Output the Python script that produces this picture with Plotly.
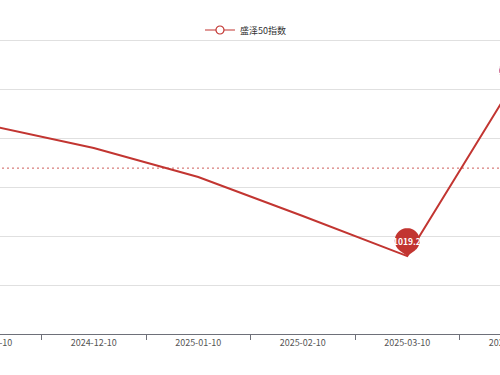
import numpy as np
import plotly.graph_objects as go

# ---- data ----
dates = ["2024-11-10", "2024-12-10", "2025-01-10", "2025-02-10", "2025-03-10", "2025-04-10"]
values = [1219.1, 1184.7, 1140.3, 1080.6, 1019.2, 1279.6]
series_name = "盛泽50指数"
y_ticks = [900, 975, 1050, 1125, 1200, 1275, 1350]

RED = "#c23531"
GRID = "#e0e0e0"
AXIS = "#6E7079"
FONT = "Noto Sans CJK SC, Noto Sans, sans-serif"

mean_v = float(np.mean(values))
i_min = int(np.argmin(values))
i_max = int(np.argmax(values))


def pin_path(h=28.0, r=12.5, n=48):
    d = h - r
    beta = np.arccos(r / d)
    a = np.linspace(beta, 2 * np.pi - beta, n)
    xs = r * np.sin(a)
    ys = d - r * np.cos(a)
    pts = ["M 0 0"] + [f"L {x:.2f} {y:.2f}" for x, y in zip(xs, ys)] + ["Z"]
    return " ".join(pts), d


fig = go.Figure()
fig.add_trace(go.Scatter(
    x=dates, y=values, mode="lines", name=series_name,
    line=dict(color=RED, width=2), showlegend=False,
))
# legend entry (ECharts style emptyCircle icon)
fig.add_trace(go.Scatter(
    x=[None], y=[None], mode="lines+markers", name=series_name,
    line=dict(color=RED, width=1.2),
    marker=dict(symbol="circle", size=8, color="white", line=dict(color=RED, width=1.2)),
))

path, d_off = pin_path()
shapes = [
    dict(type="line", xref="paper", yref="y", x0=0, x1=1, y0=mean_v, y1=mean_v,
         line=dict(color="rgba(194,53,49,0.8)", width=1, dash="2px,3px"), layer="above"),
]
annotations = []
for idx in (i_min, i_max):
    shapes.append(dict(type="path", xref="x", yref="y", xsizemode="pixel", ysizemode="pixel",
                       xanchor=idx, yanchor=values[idx], path=path,
                       fillcolor=RED, line=dict(width=0), layer="above"))
    annotations.append(dict(x=idx, y=values[idx], xref="x", yref="y", yshift=d_off,
                            text=f"<b>{values[idx]}</b>", showarrow=False,
                            font=dict(color="white", size=8.5, family=FONT)))

fig.update_layout(
    width=667, height=375,
    margin=dict(l=20, r=20, t=38, b=41),
    paper_bgcolor="white", plot_bgcolor="white",
    font=dict(family=FONT, color="#333"),
    showlegend=True,
    legend=dict(orientation="h", x=0.492, xanchor="center", y=1.027, yanchor="middle",
                font=dict(size=9, color="#333"), itemwidth=30, bgcolor="rgba(0,0,0,0)"),
    shapes=shapes, annotations=annotations,
    xaxis=dict(type="category", range=[-0.5, len(dates) - 0.5], tickson="boundaries",
               ticks="outside", ticklen=5, tickcolor=AXIS, showline=True, linecolor=AXIS,
               linewidth=1, showgrid=False, zeroline=False,
               tickfont=dict(size=9, color="#555", family=FONT)),
    yaxis=dict(range=[900, 1350 + 2 * 450 / 294], tickvals=y_ticks, showgrid=True,
               gridcolor=GRID, gridwidth=1, showticklabels=False, zeroline=False,
               showline=False),
)

post = ("var gd=document.getElementById('{plot_id}');"
        "document.documentElement.style.overflow='hidden';"
        "document.body.style.margin='0';document.body.style.overflow='hidden';"
        "gd.style.marginLeft='-83.5px';")
fig.write_html("out.html", post_script=post, config={"displayModeBar": False})
